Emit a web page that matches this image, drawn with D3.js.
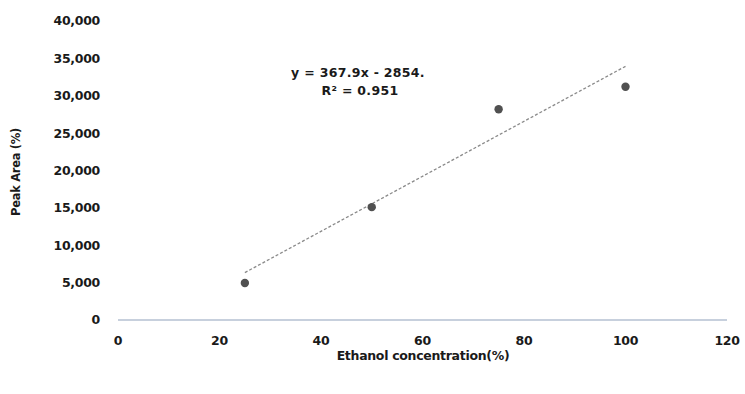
<!DOCTYPE html>
<html><head><meta charset="utf-8">
<script src="https://cdn.jsdelivr.net/npm/d3@7/dist/d3.min.js"></script>
<style>body{margin:0;background:#fff}svg{display:block}</style>
</head><body><svg id="c" width="745" height="394"></svg>
<script>
const xValues = [25, 50, 75, 100];
const yValues = [4950, 15100, 28200, 31200];
const xTicks = [0, 20, 40, 60, 80, 100, 120];
const yTicks = [0, 5000, 10000, 15000, 20000, 25000, 30000, 35000, 40000];
const slope = 367.9, intercept = -2854;
const eqText = "y = 367.9x - 2854.";
const r2Text = "R² = 0.951";
const xTitle = "Ethanol concentration(%)";
const yTitle = "Peak Area (%)";

const svg = d3.select("#c");
const x = d3.scaleLinear().domain([0,120]).range([118,727]);
const y = d3.scaleLinear().domain([0,40000]).range([320,21]);
const font = "'DejaVu Sans', Verdana, sans-serif";
const tc = "#1a1a1a";

svg.append("line").attr("x1",x(0)).attr("x2",x(120)).attr("y1",y(0)).attr("y2",y(0))
  .attr("stroke","#b4c0d2").attr("stroke-width",1.5);

svg.selectAll(".yt").data(yTicks).enter().append("text")
  .attr("x",100).attr("y",d=>y(d)).attr("dy","0.35em").attr("text-anchor","end")
  .attr("font-family",font).attr("font-size",12.5).attr("font-weight","bold").attr("fill",tc)
  .attr("letter-spacing","-0.3")
  .text(d=>d3.format(",")(d));
svg.selectAll(".xt").data(xTicks).enter().append("text")
  .attr("x",d=>x(d)).attr("y",341).attr("dy","0.35em").attr("text-anchor","middle")
  .attr("font-family",font).attr("font-size",12.5).attr("font-weight","bold").attr("fill",tc)
  .attr("letter-spacing","-0.3")
  .text(d=>d);

svg.append("text").attr("x",423).attr("y",356).attr("dy","0.35em").attr("text-anchor","middle")
  .attr("font-family",font).attr("font-size",12.5).attr("font-weight","bold").attr("fill",tc)
  .attr("letter-spacing","-0.3").text(xTitle);
svg.append("text").attr("transform","translate(16,172) rotate(-90)").attr("dy","0.35em").attr("text-anchor","middle")
  .attr("font-family",font).attr("font-size",11.5).attr("font-weight","bold").attr("fill",tc)
  .attr("letter-spacing","-0.3").text(yTitle);

const xs = d3.extent(xValues);
svg.append("line").attr("x1",x(xs[0])).attr("x2",x(xs[1]))
  .attr("y1",y(slope*xs[0]+intercept)).attr("y2",y(slope*xs[1]+intercept))
  .attr("stroke","#8a8a8a").attr("stroke-width",1.3).attr("stroke-dasharray","3,2");

svg.selectAll(".pt").data(xValues).enter().append("circle")
  .attr("cx",d=>x(d)).attr("cy",(d,i)=>y(yValues[i])).attr("r",4.2).attr("fill","#505050");

svg.append("text").attr("x",358).attr("y",73).attr("dy","0.35em").attr("text-anchor","middle")
  .attr("font-family",font).attr("font-size",12.5).attr("font-weight","bold").attr("fill",tc)
  .attr("letter-spacing","0.3").text(eqText);
svg.append("text").attr("x",360).attr("y",91).attr("dy","0.35em").attr("text-anchor","middle")
  .attr("font-family",font).attr("font-size",12.5).attr("font-weight","bold").attr("fill",tc)
  .attr("letter-spacing","0.3").text(r2Text);
</script></body></html>
